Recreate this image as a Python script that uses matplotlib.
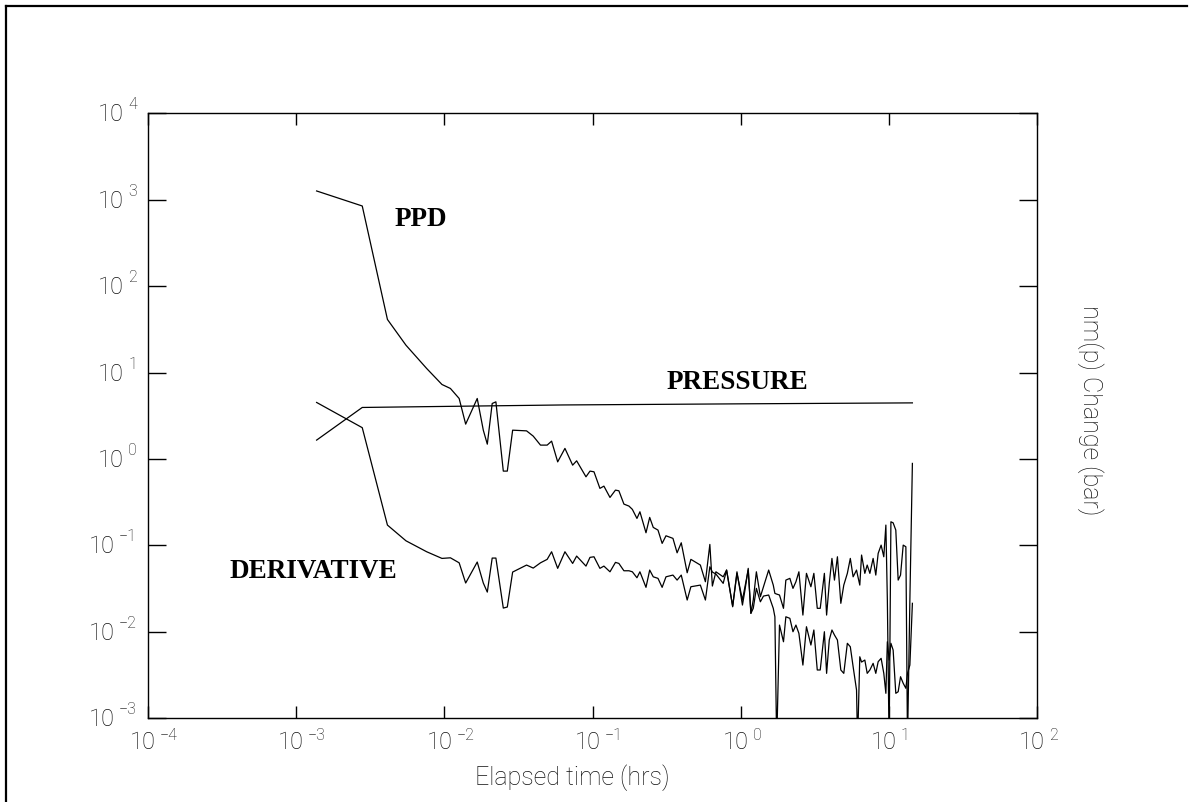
import matplotlib
matplotlib.use("Agg")
import matplotlib.pyplot as plt
import numpy as np
from matplotlib.lines import Line2D
from matplotlib.ticker import LogLocator, NullLocator
from matplotlib.transforms import offset_copy

plt.rcParams['font.family'] = ['Roboto', 'DejaVu Sans']
plt.rcParams['font.weight'] = 'light'

# log10 of elapsed time (hrs) at each vertex of the PPD / derivative curves
log_t = [-2.862, -2.554, -2.384, -2.259, -2.119, -2.016, -1.959, -1.900, -1.856, -1.778,
         -1.737, -1.710, -1.677, -1.652, -1.602, -1.575, -1.539, -1.445, -1.400, -1.351,
         -1.306, -1.276, -1.235, -1.186, -1.134, -1.107, -1.044, -1.017, -0.990, -0.950,
         -0.923, -0.882, -0.845, -0.822, -0.788, -0.754, -0.731, -0.700, -0.680, -0.639,
         -0.614, -0.590, -0.558, -0.530, -0.504, -0.457, -0.429, -0.401, -0.361, -0.336,
         -0.272, -0.238, -0.208, -0.191, -0.167, -0.118, -0.095, -0.054, -0.025, 0.012,
         0.029, 0.051, 0.069, 0.085, 0.106, 0.133, 0.154, 0.189, 0.220, 0.231,
         0.243, 0.262, 0.289, 0.305, 0.332, 0.353, 0.373, 0.393, 0.420, 0.444,
         0.474, 0.494, 0.517, 0.537, 0.565, 0.580, 0.598, 0.616, 0.633, 0.653,
         0.676, 0.696, 0.720, 0.740, 0.759, 0.782, 0.789, 0.804, 0.816, 0.838,
         0.854, 0.872, 0.894, 0.912, 0.928, 0.948, 0.966, 0.980, 0.990, 1.002,
         1.014, 1.029, 1.047, 1.063, 1.079, 1.097, 1.115, 1.126, 1.142, 1.159]

# log10 of PPD (bar)
log_ppd = [3.103, 2.929, 1.615, 1.317, 1.047, 0.862, 0.816, 0.700, 0.403, 0.700,
           0.333, 0.171, 0.642, 0.661, -0.141, -0.141, 0.333, 0.325, 0.264, 0.160,
           0.160, 0.206, -0.034, 0.122, -0.072, -0.022, -0.207, -0.141, -0.149, -0.341,
           -0.315, -0.446, -0.361, -0.369, -0.523, -0.546, -0.584, -0.689, -0.612, -0.855,
           -0.677, -0.793, -0.824, -0.978, -0.890, -0.920, -1.087, -0.971, -1.318, -1.163,
           -1.229, -1.422, -0.990, -1.472, -1.307, -1.365, -1.287, -1.704, -1.325, -1.634,
           -1.480, -1.287, -1.788, -1.730, -1.499, -1.654, -1.588, -1.576, -1.730, -1.828,
           -3.3, -1.924, -2.117, -1.828, -1.846, -2.001, -1.924, -2.020, -2.387, -1.943,
           -2.155, -1.981, -2.444, -2.444, -2.001, -2.483, -2.097, -1.981, -2.039, -2.097,
           -2.444, -2.483, -2.135, -2.175, -2.406, -2.676, -3.3, -2.291, -2.352, -2.329,
           -2.483, -2.444, -2.367, -2.483, -2.348, -2.309, -2.483, -2.714, -2.117, -2.329,
           -2.135, -2.213, -2.714, -2.696, -2.522, -2.598, -2.656, -2.483, -2.387, -1.672]

# log10 of pressure derivative (bar)
log_deriv = [0.654, 0.362, -0.766, -0.948, -1.075, -1.152, -1.145, -1.203, -1.437, -1.194,
             -1.437, -1.542, -1.148, -1.148, -1.727, -1.715, -1.310, -1.229, -1.264, -1.203,
             -1.163, -1.075, -1.267, -1.075, -1.210, -1.125, -1.241, -1.140, -1.133, -1.267,
             -1.241, -1.307, -1.198, -1.210, -1.295, -1.295, -1.307, -1.376, -1.307, -1.487,
             -1.287, -1.365, -1.383, -1.487, -1.365, -1.345, -1.403, -1.345, -1.634, -1.480,
             -1.461, -1.634, -1.249, -1.310, -1.333, -1.441, -1.287, -1.712, -1.307, -1.692,
             -1.519, -1.267, -1.788, -1.634, -1.307, -1.596, -1.480, -1.287, -1.461, -1.557,
             -1.565, -1.576, -1.730, -1.403, -1.383, -1.499, -1.422, -1.307, -1.808, -1.325,
             -1.480, -1.325, -1.730, -1.730, -1.325, -1.808, -1.441, -1.152, -1.403, -1.133,
             -1.672, -1.461, -1.325, -1.152, -1.365, -1.287, -1.345, -1.461, -1.113, -1.325,
             -1.229, -1.325, -1.152, -1.345, -1.094, -0.998, -1.133, -0.766, -1.634, -3.3,
             -0.728, -0.740, -0.824, -1.403, -1.345, -0.998, -1.017, -3.3, -1.634, -0.052]

# pressure change curve
log_t_pres = [-2.862, -2.554, -2.0, -1.2, 0.0, 1.159]
log_pres = [0.218, 0.596, 0.608, 0.625, 0.638, 0.649]

x_decades = list(range(-4, 3))
y_decades = list(range(-3, 5))

t = 10 ** np.array(log_t)
ppd = 10 ** np.array(log_ppd)
deriv = 10 ** np.array(log_deriv)
t_pres = 10 ** np.array(log_t_pres)
pres = 10 ** np.array(log_pres)

W, H = 1195, 802
fig = plt.figure(figsize=(W / 100, H / 100), dpi=100)
ax = fig.add_axes([148 / W, 84 / H, 889 / W, 604.5 / H])

ax.plot(t, ppd, color='k', lw=0.9)
ax.plot(t, deriv, color='k', lw=0.9)
ax.plot(t_pres, pres, color='k', lw=0.9)

ax.set_xscale('log')
ax.set_yscale('log')
ax.set_xlim(1e-4, 1e2)
ax.set_ylim(1e-3, 1e4)
ax.xaxis.set_major_locator(LogLocator(base=10, numticks=20))
ax.yaxis.set_major_locator(LogLocator(base=10, numticks=20))
ax.xaxis.set_minor_locator(NullLocator())
ax.yaxis.set_minor_locator(NullLocator())
ax.tick_params(axis='x', direction='in', length=8.6, width=1, top=True,
               labelbottom=False)
ax.tick_params(axis='y', direction='in', length=13, width=1, right=True,
               labelleft=False)
for s in ax.spines.values():
    s.set_linewidth(1.0)


def expo(k):
    return ('\u2212%d' % -k) if k < 0 else '%d' % k


# decade labels drawn as "10" plus a raised exponent
renderer = fig.canvas.get_renderer()
for k in x_decades:
    base = ax.text(10.0 ** k, 0, '10', ha='left', va='baseline', fontsize=17,
                   color='#111111',
                   transform=offset_copy(ax.get_xaxis_transform(), fig,
                                         x=-18, y=-31, units='dots'))
    bw = base.get_window_extent(renderer).width
    ax.text(10.0 ** k, 0, expo(k), ha='left', va='baseline', fontsize=11.5,
            color='#111111',
            transform=offset_copy(ax.get_xaxis_transform(), fig,
                                  x=-18 + bw + 4, y=-22, units='dots'))
for k in y_decades:
    ex = ax.text(0, 10.0 ** k, expo(k), ha='right', va='baseline', fontsize=11.5,
                 color='#111111',
                 transform=offset_copy(ax.get_yaxis_transform(), fig,
                                       x=-11, y=4, units='dots'))
    ew = ex.get_window_extent(renderer).width
    ax.text(0, 10.0 ** k, '10', ha='right', va='baseline', fontsize=17,
            color='#111111',
            transform=offset_copy(ax.get_yaxis_transform(), fig,
                                  x=-11 - ew - 4, y=-8, units='dots'))

fig.text(572 / W, 1 - 778 / H, 'Elapsed time (hrs)', ha='center', va='center',
         fontsize=18, color='#111111')
fig.text(1090 / W, 1 - 410 / H, 'nm(p) Change (bar)', ha='center', va='center',
         rotation=-90, fontsize=18, color='#111111')

lab = dict(family=['Liberation Serif', 'DejaVu Serif'], weight='bold',
           fontsize=19.5, ha='center', va='center')
fig.text(421 / W, 1 - 219 / H, 'PPD', **lab)
fig.text(737.5 / W, 1 - 382.5 / H, 'PRESSURE', **lab)
fig.text(313 / W, 1 - 571 / H, 'DERIVATIVE', **lab)

# frame round the page (left and top edges)
fig.add_artist(Line2D([6.5 / W, 6.5 / W], [0, 1 - 5.5 / H],
                      transform=fig.transFigure, color='k', lw=1.6))
fig.add_artist(Line2D([6.5 / W, 1187 / W], [1 - 5.5 / H, 1 - 5.5 / H],
                      transform=fig.transFigure, color='k', lw=1.6))

fig.savefig('out.png', dpi=100)
